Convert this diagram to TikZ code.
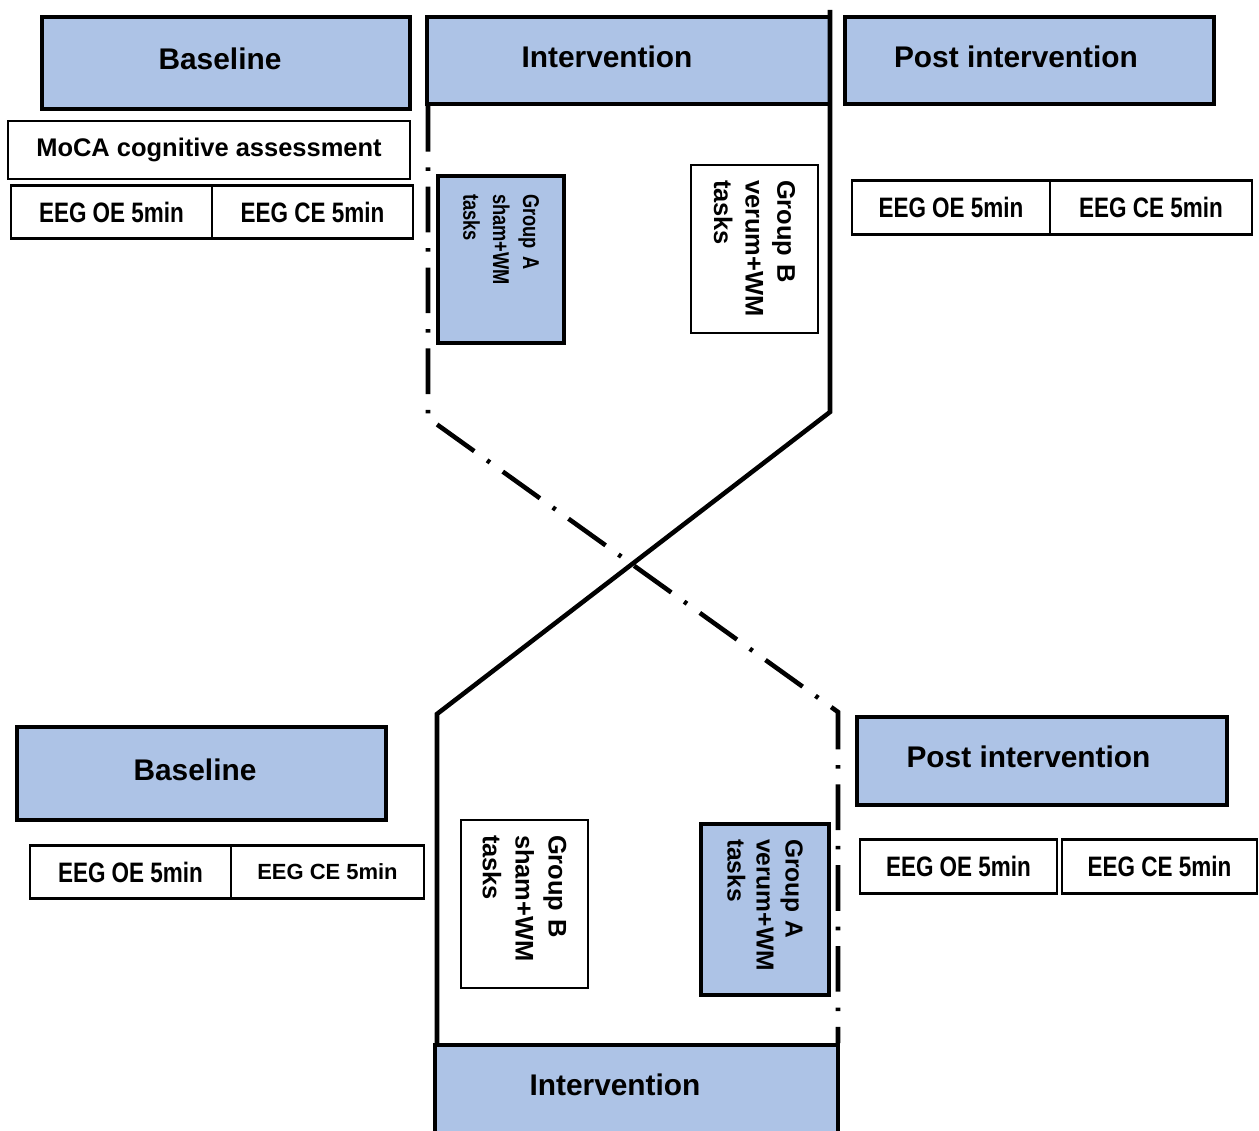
\documentclass[tikz,border=0pt]{standalone}
\usepackage{fontspec}
\setmainfont{Liberation Sans}
\newfontfamily\narrowsf[FakeStretch=0.8]{Liberation Sans}
\definecolor{phaseblue}{HTML}{ADC3E6}
\tikzset{
  phasebox/.style={
    rectangle, draw=black, line width=2.2pt, fill=phaseblue,
    text centered, text depth=0.16cm,
    font=\fontsize{17}{20}\selectfont\bfseries
  },
  textshift/.style={execute at begin node={\hspace*{#1}}},
  itembox/.style={
    rectangle, draw=black, line width=1.5pt, fill=white,
    text centered, font=\fontsize{14.5}{17}\selectfont\bfseries
  },
  eegbox/.style={
    itembox, minimum height=1.07cm,
    font=\narrowsf\bfseries\fontsize{16}{19}\selectfont
  },
  groupbox/.style={
    rectangle, draw=black, line width=1.5pt, fill=#1,
    rotate=-90, align=left, inner xsep=0.3cm,
    font=\fontsize{14.5}{18}\selectfont\bfseries
  },
  crossline/.style={line width=2.6pt},
  crossdash/.style={line width=2.6pt, dash pattern=on 26pt off 9pt on 2pt off 9pt},
}

\begin{document}
\begin{tikzpicture}[x=0.02cm, y=-0.02cm]
  \useasboundingbox (0,0) rectangle (1259,1131);

  % first period
  \node[phasebox, textshift=-0.24cm, minimum width=7.36cm, minimum height=1.84cm] (baseA) at (226,63) {Baseline};
  \node[phasebox, textshift=-0.86cm, minimum width=8.06cm, minimum height=1.74cm] (intA)  at (628.5,60.5) {Intervention};
  \node[phasebox, textshift=-0.54cm, minimum width=7.38cm, minimum height=1.74cm] (postA) at (1029.5,60.5) {Post intervention};

  \node[itembox, minimum width=8.04cm, minimum height=1.16cm] (moca) at (209,150) {MoCA cognitive assessment};
  \node[eegbox, minimum width=4.02cm] (oeA)  at (111.5,212) {EEG OE 5min};
  \node[eegbox, minimum width=4.02cm] (ceA)  at (312.5,212) {EEG CE 5min};
  \node[eegbox, minimum width=3.96cm] (oeA2) at (951,207.5)  {EEG OE 5min};
  \node[eegbox, minimum width=4.04cm] (ceA2) at (1151,207.5) {EEG CE 5min};

  \node[groupbox=phaseblue, line width=2.6pt, minimum width=3.34cm, minimum height=2.52cm,
        text width=2.62cm, inner xsep=0.36cm, font=\narrowsf\bfseries\fontsize{13}{17}\selectfont]
       (shamA) at (501,259.5) {Group A\\sham+WM\\tasks};
  \node[groupbox=white, minimum width=3.36cm, minimum height=2.54cm, text width=2.76cm]
       (verumB) at (754.5,249) {Group B\\verum+WM\\tasks};

  % second period
  \node[phasebox, textshift=-0.26cm, minimum width=7.38cm, minimum height=1.86cm] (baseB) at (201.5,773.5) {Baseline};
  \node[phasebox, textshift=-0.86cm, minimum width=8.06cm, minimum height=1.76cm] (intB)  at (636.5,1089) {Intervention};
  \node[phasebox, textshift=-0.54cm, minimum width=7.4cm,  minimum height=1.76cm] (postB) at (1042,761) {Post intervention};

  \node[eegbox, minimum width=4.02cm] (oeB)  at (130.5,872) {EEG OE 5min};
  \node[eegbox, minimum width=3.86cm, font=\fontsize{12.5}{15}\selectfont\bfseries] (ceB) at (327.5,872) {EEG CE 5min};
  \node[eegbox, minimum width=3.94cm] (oeB2) at (958.5,866.5)  {EEG OE 5min};
  \node[eegbox, minimum width=3.9cm]  (ceB2) at (1159.5,866.5) {EEG CE 5min};

  \node[groupbox=white, minimum width=3.36cm, minimum height=2.54cm, text width=2.76cm,
        font=\fontsize{14.5}{18.7}\selectfont\bfseries]
       (shamB) at (524.5,904) {Group B\\sham+WM\\tasks};
  \node[groupbox=phaseblue, line width=2.6pt, minimum width=3.42cm, minimum height=2.56cm,
        text width=2.82cm, font=\fontsize{14}{16.5}\selectfont\bfseries]
       (verumA) at (765,909.5) {Group A\\verum+WM\\tasks};

  % crossover
  \coordinate (topend) at (830,10);
  \coordinate (xr) at (830,412);
  \coordinate (xl) at (437,714);
  \coordinate (dl) at (428,418);
  \coordinate (dr) at (838,712);
  \draw[crossline] (topend) -- (xr) -- (xl) -- (xl |- intB.north);
  \draw[crossdash] (dl |- intA.south) -- (dl) -- (dr) -- (dr |- intB.north);
\end{tikzpicture}
\end{document}
